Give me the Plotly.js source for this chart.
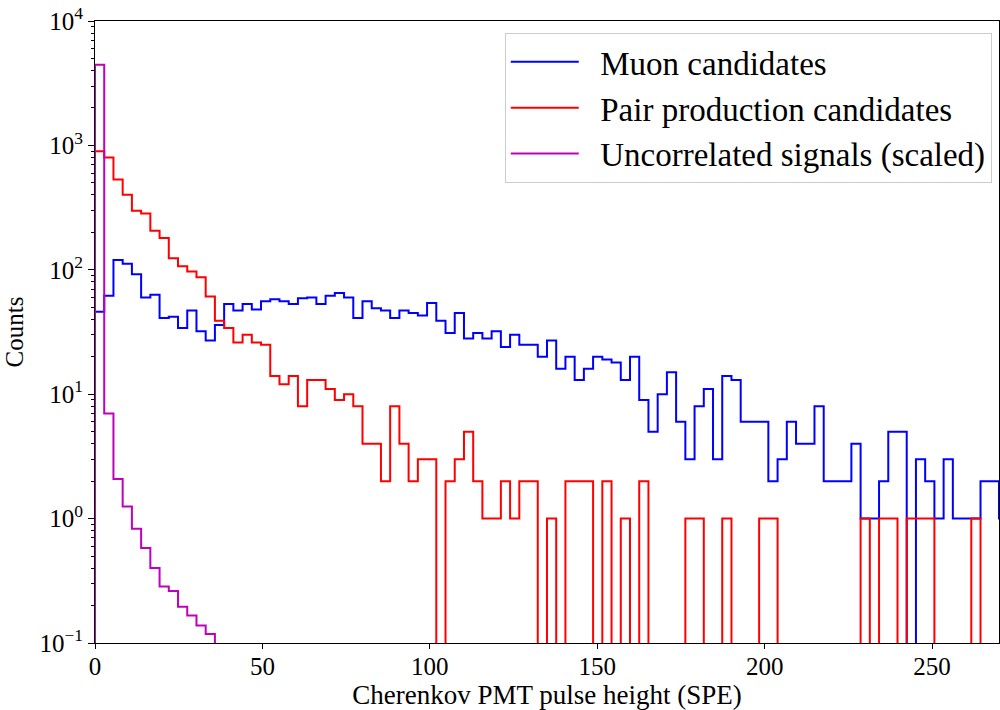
<!DOCTYPE html>
<html>
<head>
<meta charset="utf-8">
<script src="https://cdn.plot.ly/plotly-3.0.1.min.js"></script>
<style>
  html, body { margin: 0; padding: 0; background: #ffffff; }
  #chart { width: 1000px; height: 710px; }
</style>
</head>
<body>
<div id="chart"></div>
<script>
// Histogram bin width (SPE); bins start at 0
const binWidth = 2.755;

// Muon candidates: counts per bin
const muonCounts = [
  46, 62, 120, 112, 92, 60, 63, 41, 42, 34,
  47, 32, 27, 36, 53, 47, 53, 48, 56, 58,
  56, 53, 59, 60, 53, 62, 65, 60, 41, 56,
  49, 47, 41, 47, 45, 43, 54, 39, 31, 45,
  28, 31, 28, 32, 24, 30, 25, 25, 20, 27,
  16, 20, 13, 16, 20, 19, 18, 13, 20, 9,
  5, 10, 15, 6, 3, 8, 11, 3, 14, 13,
  6, 6, 6, 2, 3, 6, 4, 4, 8, 2,
  2, 2, 4, 1, 1, 2, 5, 5, 0, 3,
  2, 1, 3, 1, 1, 1, 2, 2, 1
];

// Pair production candidates: counts per bin
const pairCounts = [
  898, 800, 531, 402, 299, 284, 206, 180, 124, 107,
  97, 87, 61, 39, 34, 26, 30, 26, 25, 14,
  12, 14, 8, 13, 13, 11, 9, 10, 8, 4,
  4, 2, 8, 4, 2, 3, 3, 0, 2, 3,
  5, 2, 1, 1, 2, 1, 2, 2, 0, 1,
  0, 2, 2, 2, 0, 2, 0, 1, 0, 2,
  0, 0, 0, 0, 1, 1, 0, 0, 1, 0,
  0, 0, 1, 1, 0, 0, 0, 0, 0, 0,
  0, 0, 0, 1, 0, 1, 1, 0, 1, 1,
  1, 0, 0, 0, 0, 1, 0, 0, 0
];

// Uncorrelated signals (scaled): counts per bin
const uncorrCounts = [
  4450, 7.0, 2.08, 1.25, 0.83, 0.58, 0.40, 0.284, 0.262, 0.196,
  0.166, 0.138, 0.118, 0
];

const xTicks = [0, 50, 100, 150, 200, 250];
const yTickVals = [0.1, 1, 10, 100, 1000, 10000];
const yTickText = ["10<sup>\u22121</sup>", "10<sup>0</sup>", "10<sup>1</sup>", "10<sup>2</sup>", "10<sup>3</sup>", "10<sup>4</sup>"];
const seriesNames = ["Muon candidates", "Pair production candidates", "Uncorrelated signals (scaled)"];
const seriesColors = ["#0000ff", "#ff0000", "#bf00bf"];

const FLOOR = 1e-4; // empty bins drawn below the visible axis range
const PAD = "\u00a0\u00a0"; // gap between legend line sample and text

function stepTrace(counts, name, color) {
  const x = [0], y = [FLOOR];
  for (let i = 0; i < counts.length; i++) {
    x.push(i * binWidth);
    y.push(counts[i] > 0 ? counts[i] : FLOOR);
  }
  x.push(counts.length * binWidth);
  y.push(FLOOR);
  return {
    type: "scatter", mode: "lines", name: PAD + name,
    x: x, y: y,
    line: { shape: "hv", color: color, width: 2 },
    hoverinfo: "skip"
  };
}

const data = [
  stepTrace(muonCounts, seriesNames[0], seriesColors[0]),
  stepTrace(pairCounts, seriesNames[1], seriesColors[1]),
  stepTrace(uncorrCounts, seriesNames[2], seriesColors[2])
];

const FONT = "Liberation Serif, Times New Roman, serif";

const layout = {
  width: 1000, height: 710,
  paper_bgcolor: "#ffffff", plot_bgcolor: "#ffffff",
  margin: { l: 95, r: 1, t: 21, b: 67 },
  font: { family: FONT, size: 25, color: "#000000" },
  showlegend: true,
  legend: {
    x: 0.992, y: 0.981, xanchor: "right", yanchor: "top",
    bgcolor: "#ffffff", bordercolor: "#cccccc", borderwidth: 1,
    font: { family: FONT, size: 33, color: "#000000" },
    itemwidth: 68, tracegroupgap: 0
  },
  xaxis: {
    range: [0, 270],
    tickmode: "array", tickvals: xTicks, ticktext: xTicks.map(String),
    ticks: "outside", ticklen: 5, tickwidth: 1, tickcolor: "#000000",
    ticklabelstandoff: -4,
    showline: true, mirror: true, linecolor: "#000000", linewidth: 1,
    showgrid: false, zeroline: false,
    tickfont: { family: FONT, size: 25, color: "#000000" },
    title: { text: "Cherenkov PMT pulse height (SPE)", font: { family: FONT, size: 27, color: "#000000" }, standoff: 10 }
  },
  yaxis: {
    type: "log", range: [-1, 4],
    tickmode: "array", tickvals: yTickVals, ticktext: yTickText,
    ticks: "outside", ticklen: 6, tickwidth: 1, tickcolor: "#000000",
    minor: { ticks: "outside", ticklen: 3, tickcolor: "#000000", dtick: "D1", showgrid: false },
    showline: true, mirror: true, linecolor: "#000000", linewidth: 1,
    showgrid: false, zeroline: false,
    tickfont: { family: FONT, size: 25, color: "#000000" },
    title: { text: "Counts", font: { family: FONT, size: 25, color: "#000000" }, standoff: 8 }
  }
};

Plotly.newPlot("chart", data, layout, { displayModeBar: false, staticPlot: true });
</script>
</body>
</html>
